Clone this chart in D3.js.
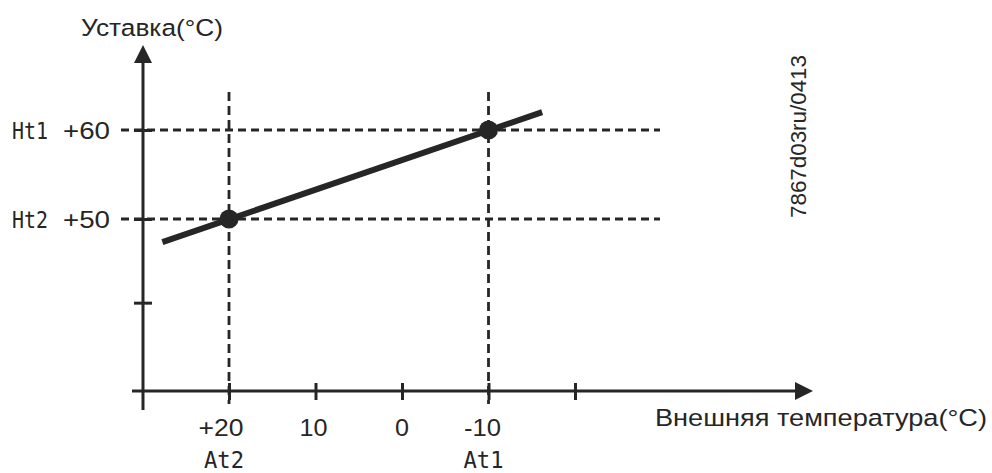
<!DOCTYPE html>
<html>
<head>
<meta charset="utf-8">
<script src="https://cdn.jsdelivr.net/npm/d3@7"></script>
<style>
  html, body { margin: 0; padding: 0; background: #ffffff; }
  svg { display: block; }
</style>
</head>
<body>
<script>
// ---- data ----
const xTicks = [20, 10, 0, -10, -20];
const xTickLabels = ["+20", "10", "0", "-10", ""];
const yTicks = [60, 50, 40.6];
const yTickLabels = ["+60", "+50", ""];
const yNames = ["Ht1", "Ht2"];           // names for setpoints 60 / 50
const xNames = ["At2", "At1"];           // names for outdoor temps 20 / -10
const pointTemps = [20, -10];
const pointSetpoints = [50, 60];
const lineTemps = [27.7, -16.2];
const lineSetpoints = [47.4, 62.0];
const yTitle = "Уставка(°C)";
const xTitle = "Внешняя температура(°C)";
const docId = "7867d03ru/0413";

// ---- layout ----
const W = 992, H = 473;
const ink = "#262626";
const font = "'Liberation Sans', Arial, sans-serif";
const mono = "'DejaVu Sans Mono', monospace";

const x = d3.scaleLinear().domain([20, -20]).range([229, 575]);
const y = d3.scaleLinear().domain([60, 50]).range([130, 219]);

const axisX0 = 143;   // y-axis position
const axisY0 = 391;   // x-axis position

const svg = d3.select("body").append("svg")
  .attr("width", W).attr("height", H);

// per-label widths (visual fitting)
const xLabelW = { "+20": 45, "10": 28, "0": 14, "-10": 37 };
const xLabelShift = { "+20": -8, "10": -2, "0": 0, "-10": -6 };

// dashed guide lines
const g = svg.append("g");
pointSetpoints.forEach(v => {
  g.append("line")
    .attr("x1", 121).attr("x2", 660)
    .attr("y1", y(v)).attr("y2", y(v))
    .attr("stroke", ink).attr("stroke-width", 2.8)
    .attr("stroke-dasharray", "8,5");
});
pointTemps.forEach(v => {
  g.append("line")
    .attr("x1", x(v)).attr("x2", x(v))
    .attr("y1", 92).attr("y2", 404)
    .attr("stroke", ink).attr("stroke-width", 2.8)
    .attr("stroke-dasharray", "9,5");
});

// axes lines
svg.append("line")
  .attr("x1", axisX0).attr("x2", axisX0)
  .attr("y1", 60).attr("y2", 410)
  .attr("stroke", ink).attr("stroke-width", 3);
svg.append("path")
  .attr("d", `M${axisX0},45 L${axisX0 - 9},63 L${axisX0 + 9},63 Z`)
  .attr("fill", ink);
svg.append("line")
  .attr("x1", 132).attr("x2", 797)
  .attr("y1", axisY0).attr("y2", axisY0)
  .attr("stroke", ink).attr("stroke-width", 3);
svg.append("path")
  .attr("d", `M813,${axisY0} L795,${axisY0 - 9} L795,${axisY0 + 9} Z`)
  .attr("fill", ink);

// x ticks via d3 axis
const xAxis = d3.axisBottom(x).tickValues(xTicks).tickSize(17).tickFormat("");
const gx = svg.append("g").attr("transform", `translate(0,${axisY0 - 8})`).call(xAxis);
gx.select(".domain").remove();
gx.selectAll(".tick line").attr("stroke", ink).attr("stroke-width", 3);

// y ticks via d3 axis
const yAxis = d3.axisRight(y).tickValues(yTicks).tickSize(18).tickFormat("");
const gy = svg.append("g").attr("transform", `translate(${axisX0 - 9},0)`).call(yAxis);
gy.select(".domain").remove();
gy.selectAll(".tick line").attr("stroke", ink).attr("stroke-width", 3);

// x tick labels
svg.append("g").selectAll("text")
  .data(xTicks.map((v, i) => ({ v, label: xTickLabels[i] })).filter(d => d.label))
  .join("text")
  .attr("x", d => x(d.v) + xLabelShift[d.label])
  .attr("y", 436)
  .attr("text-anchor", "middle")
  .attr("font-family", font).attr("font-size", 24.5)
  .attr("textLength", d => xLabelW[d.label])
  .attr("lengthAdjust", "spacingAndGlyphs")
  .attr("fill", ink)
  .text(d => d.label);

// x names (At2, At1)
svg.append("g").selectAll("text")
  .data(pointTemps.map((v, i) => ({ v, label: xNames[i] })))
  .join("text")
  .attr("x", d => x(d.v) - 5)
  .attr("y", 468)
  .attr("text-anchor", "middle")
  .attr("font-family", mono).attr("font-size", 23)
  .attr("textLength", 40)
  .attr("lengthAdjust", "spacingAndGlyphs")
  .attr("fill", ink)
  .text(d => d.label);

// y tick labels
svg.append("g").selectAll("text")
  .data(yTicks.map((v, i) => ({ v, label: yTickLabels[i] })).filter(d => d.label))
  .join("text")
  .attr("x", 110)
  .attr("y", d => y(d.v) + 9)
  .attr("text-anchor", "end")
  .attr("font-family", font).attr("font-size", 24.5)
  .attr("textLength", 47)
  .attr("lengthAdjust", "spacingAndGlyphs")
  .attr("fill", ink)
  .text(d => d.label);

// y names (Ht1, Ht2)
svg.append("g").selectAll("text")
  .data([60, 50].map((v, i) => ({ v, label: yNames[i] })))
  .join("text")
  .attr("x", 12)
  .attr("y", d => y(d.v) + 9)
  .attr("font-family", mono).attr("font-size", 23)
  .attr("textLength", 36)
  .attr("lengthAdjust", "spacingAndGlyphs")
  .attr("fill", ink)
  .text(d => d.label);

// characteristic line
const lineData = lineTemps.map((t, i) => ({ t, s: lineSetpoints[i] }));
svg.append("path")
  .datum(lineData)
  .attr("d", d3.line().x(d => x(d.t)).y(d => y(d.s)))
  .attr("stroke", ink).attr("stroke-width", 6).attr("fill", "none");

// points
svg.append("g").selectAll("circle")
  .data(pointTemps.map((t, i) => ({ t, s: pointSetpoints[i] })))
  .join("circle")
  .attr("cx", d => x(d.t)).attr("cy", d => y(d.s))
  .attr("r", 9.5).attr("fill", ink);

// titles
svg.append("text")
  .attr("x", 81).attr("y", 36)
  .attr("font-family", font).attr("font-size", 24.5)
  .attr("textLength", 142)
  .attr("lengthAdjust", "spacingAndGlyphs")
  .attr("fill", ink)
  .text(yTitle);

svg.append("text")
  .attr("x", 655).attr("y", 426)
  .attr("font-family", font).attr("font-size", 24.5)
  .attr("textLength", 332)
  .attr("lengthAdjust", "spacingAndGlyphs")
  .attr("fill", ink)
  .text(xTitle);

svg.append("text")
  .attr("transform", "translate(806,218) rotate(-90)")
  .attr("font-family", font).attr("font-size", 22)
  .attr("textLength", 163)
  .attr("lengthAdjust", "spacingAndGlyphs")
  .attr("fill", ink)
  .text(docId);
</script>
</body>
</html>
